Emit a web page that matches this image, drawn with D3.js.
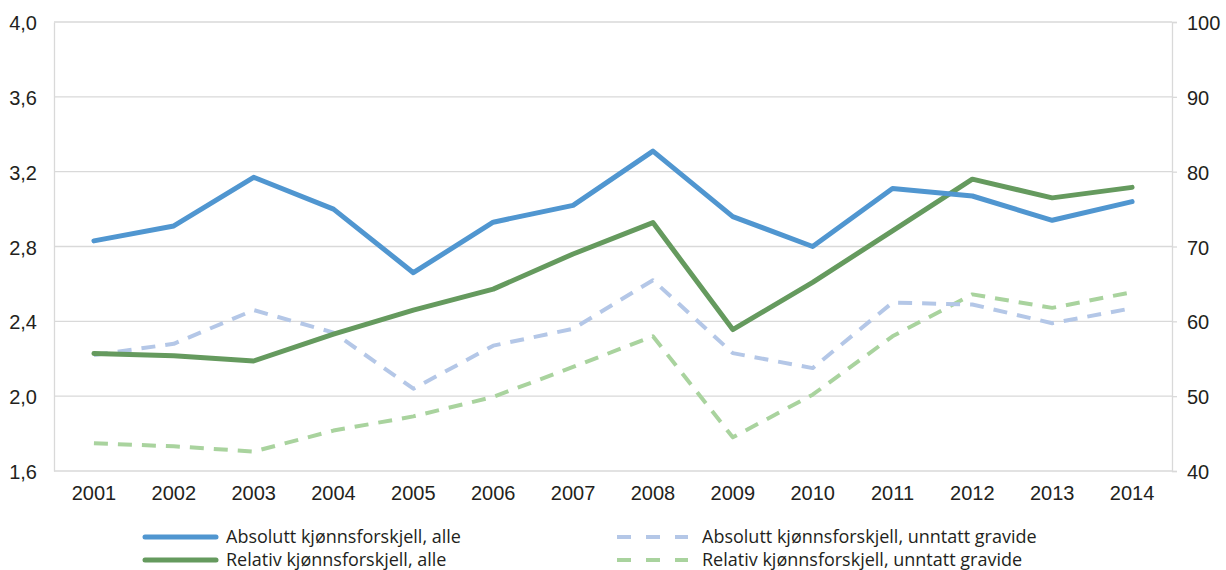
<!DOCTYPE html>
<html>
<head>
<meta charset="utf-8">
<script src="https://cdn.jsdelivr.net/npm/d3@7"></script>
<style>
  html, body { margin: 0; padding: 0; background: #fff; }
  svg { display: block; font-family: "Open Sans", "Noto Sans", sans-serif; }
</style>
</head>
<body>
<svg id="chart" width="1226" height="570"></svg>
<script>
// Years on the x axis
const years = ["2001","2002","2003","2004","2005","2006","2007","2008","2009","2010","2011","2012","2013","2014"];

// Absolute gender gap (left axis)
const absAll = [2.83, 2.91, 3.17, 3.00, 2.66, 2.93, 3.02, 3.31, 2.96, 2.80, 3.11, 3.07, 2.94, 3.04];
const absExPregnant = [2.22, 2.28, 2.46, 2.34, 2.04, 2.27, 2.36, 2.62, 2.23, 2.15, 2.50, 2.49, 2.39, 2.47];

// Relative gender gap (right axis)
const relAll = [55.7, 55.4, 54.7, 58.3, 61.5, 64.3, 69.0, 73.2, 58.9, 65.2, 72.1, 79.0, 76.5, 77.9];
const relExPregnant = [43.7, 43.3, 42.6, 45.4, 47.3, 49.9, 53.9, 58.0, 44.5, 50.2, 58.0, 63.6, 61.8, 63.9];

// Tick labels
const leftTicks = [1.6, 2.0, 2.4, 2.8, 3.2, 3.6, 4.0];
const rightTicks = [40, 50, 60, 70, 80, 90, 100];

const svg = d3.select("#chart");
const m = { left: 54, right: 1172, top: 22, bottom: 471 };

const x = d3.scaleBand().domain(years).range([m.left, m.right]);
const yL = d3.scaleLinear().domain([1.6, 4.0]).range([m.bottom, m.top]);
const yR = d3.scaleLinear().domain([40, 100]).range([m.bottom, m.top]);
const cx = d => x(d) + x.bandwidth() / 2;

const gridColor = "#d9d9d9";
const textColor = "#231f20";
const tickFont = 20;
const legendFont = 18;

// Horizontal gridlines
svg.append("g").selectAll("line").data(leftTicks).join("line")
  .attr("x1", m.left).attr("x2", m.right)
  .attr("y1", d => yL(d)).attr("y2", d => yL(d))
  .attr("stroke", gridColor).attr("stroke-width", 1.3);

// Left axis
const gL = svg.append("g").attr("transform", `translate(${m.left},0)`)
  .call(d3.axisLeft(yL).tickValues(leftTicks).tickSize(0).tickPadding(17)
    .tickFormat(d => d3.format(".1f")(d).replace(".", ",")));
gL.select(".domain").attr("stroke", gridColor).attr("stroke-width", 1.3);
gL.selectAll("text").attr("font-size", tickFont).attr("fill", textColor).attr("dy", "0.38em");

// Right axis
const gR = svg.append("g").attr("transform", `translate(${m.right},0)`)
  .call(d3.axisRight(yR).tickValues(rightTicks).tickSize(5).tickPadding(10));
gR.select(".domain").attr("stroke", gridColor).attr("stroke-width", 1.3);
gR.selectAll(".tick line").attr("stroke", gridColor).attr("stroke-width", 1.3);
gR.selectAll("text").attr("font-size", tickFont).attr("fill", textColor).attr("dy", "0.38em");

// Bottom axis labels
const gB = svg.append("g").attr("transform", `translate(0,${m.bottom})`)
  .call(d3.axisBottom(x).tickSize(0).tickPadding(15));
gB.select(".domain").remove();
gB.selectAll("text").attr("font-size", tickFont).attr("fill", textColor);

// Series definitions
const series = [
  { name: "Relativ kjønnsforskjell, unntatt gravide", values: relExPregnant, y: yR, color: "#a9d39e", width: 4, dash: "14,10" },
  { name: "Absolutt kjønnsforskjell, unntatt gravide", values: absExPregnant, y: yL, color: "#b4c7e7", width: 4, dash: "14,10" },
  { name: "Relativ kjønnsforskjell, alle", values: relAll, y: yR, color: "#659a5e", width: 5, dash: null },
  { name: "Absolutt kjønnsforskjell, alle", values: absAll, y: yL, color: "#5096d0", width: 5, dash: null }
];

series.forEach(s => {
  const line = d3.line().x((d, i) => cx(years[i])).y(d => s.y(d));
  svg.append("path")
    .datum(s.values)
    .attr("d", line)
    .attr("fill", "none")
    .attr("stroke", s.color)
    .attr("stroke-width", s.width)
    .attr("stroke-linejoin", "round")
    .attr("stroke-linecap", s.dash ? "butt" : "round")
    .attr("stroke-dasharray", s.dash);
});

// Legend
const legendItems = [
  { s: series[3], x: 145, y: 537 },
  { s: series[2], x: 145, y: 560 },
  { s: series[1], x: 617, y: 537 },
  { s: series[0], x: 617, y: 560 }
];
const lg = svg.append("g");
legendItems.forEach(it => {
  lg.append("line")
    .attr("x1", it.x).attr("x2", it.x + 71)
    .attr("y1", it.y).attr("y2", it.y)
    .attr("stroke", it.s.color)
    .attr("stroke-width", it.s.width)
    .attr("stroke-linecap", it.s.dash ? "butt" : "round")
    .attr("stroke-dasharray", it.s.dash ? "14,15" : null);
  lg.append("text")
    .attr("x", it.x + (it.s.dash ? 85 : 81)).attr("y", it.y)
    .attr("dy", "0.35em")
    .attr("font-size", legendFont).attr("fill", textColor)
    .text(it.s.name);
});
</script>
</body>
</html>
